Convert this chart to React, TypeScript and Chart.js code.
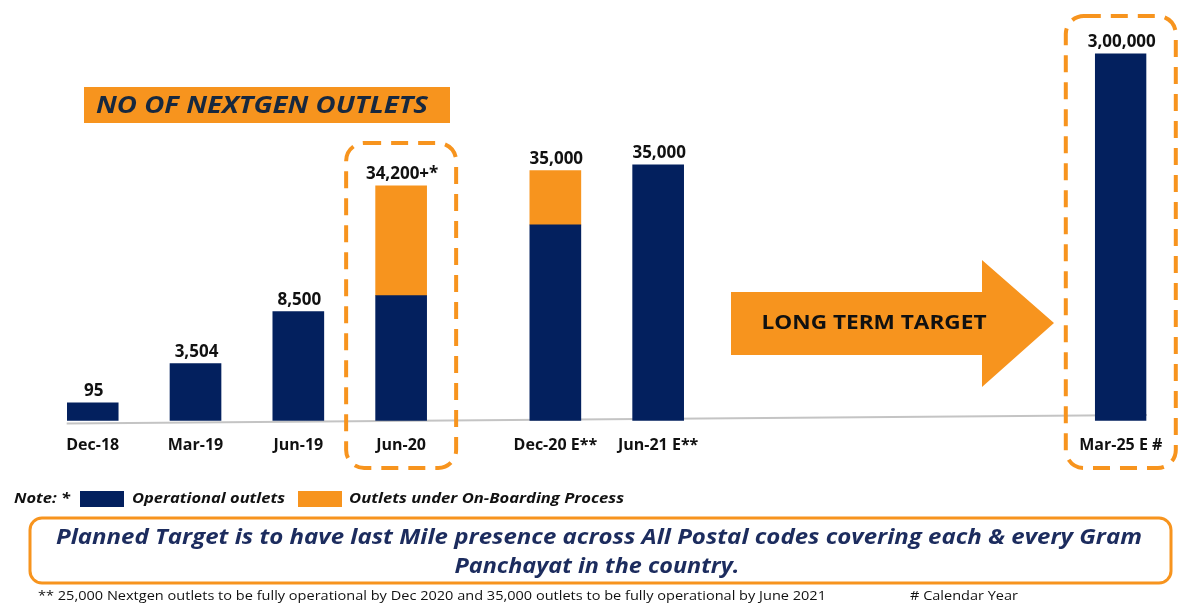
import { useEffect, useRef } from "react";
import { Chart, registerables } from "chart.js";

Chart.register(...registerables);

// Tick labels along the x axis (empty strings are spacer slots of the illustration)
const tickLabels = [
  "Dec-18", "", "Mar-19", "", "Jun-19", "", "Jun-20", "", "", "Dec-20 E**", "",
  "Jun-21 E**", "", "", "", "", "", "", "", "", "Mar-25 E #",
];
// Values printed above each bar
const valueLabels = ["95", "3,504", "8,500", "34,200+*", "35,000", "35,000", "3,00,000"];
// Bar heights as drawn (the original picture is not to scale), relative units 0-100
const operationalHeights = [4.5, 14.3, 27.3, 31.3, 49, 64, 91.8];
const onboardingHeights = [0, 0, 0, 27.5, 13.6, 0, 0];
// Categories wrapped by a dashed highlight box
const highlighted = ["Jun-20", "Mar-25 E #"];

const NAVY = "#03205E";
const ORANGE = "#F7941E";
const FONT = "'Open Sans', 'DejaVu Sans', sans-serif";

function fitText(
  ctx: CanvasRenderingContext2D,
  text: string,
  x: number,
  y: number,
  width: number,
  font: string,
  color: string,
  align: "left" | "center" = "left"
) {
  ctx.save();
  ctx.font = font;
  ctx.fillStyle = color;
  ctx.textBaseline = "middle";
  ctx.textAlign = "left";
  const w = ctx.measureText(text).width;
  const s = width / w;
  ctx.translate(align === "center" ? x - width / 2 : x, y);
  ctx.scale(s, 1);
  ctx.fillText(text, 0, 0);
  ctx.restore();
}

function roundRectPath(ctx: CanvasRenderingContext2D, x: number, y: number, w: number, h: number, r: number) {
  ctx.beginPath();
  ctx.moveTo(x + r, y);
  ctx.lineTo(x + w - r, y);
  ctx.arcTo(x + w, y, x + w, y + r, r);
  ctx.lineTo(x + w, y + h - r);
  ctx.arcTo(x + w, y + h, x + w - r, y + h, r);
  ctx.lineTo(x + r, y + h);
  ctx.arcTo(x, y + h, x, y + h - r, r);
  ctx.lineTo(x, y + r);
  ctx.arcTo(x, y, x + r, y, r);
  ctx.closePath();
}

export default function App() {
  const ref = useRef<HTMLCanvasElement>(null);

  useEffect(() => {
    document.body.style.margin = "0";
    const slots: number[] = [];
    tickLabels.forEach((l, i) => {
      if (l) slots.push(i);
    });
    const opData = tickLabels.map((l, i) => (l ? operationalHeights[slots.indexOf(i)] : null));
    const obData = tickLabels.map((l, i) => {
      if (!l) return null;
      const v = onboardingHeights[slots.indexOf(i)];
      return v > 0 ? v : null;
    });

    const decor = {
      id: "decor",
      beforeDatasetsDraw(chart: any) {
        const ctx = chart.ctx as CanvasRenderingContext2D;
        const xs = chart.scales.x;
        const left = xs.getPixelForValue(slots[0]) - 26;
        const right = xs.getPixelForValue(slots[slots.length - 1]) + 26;
        ctx.save();
        ctx.strokeStyle = "#C4C4C4";
        ctx.lineWidth = 2;
        ctx.beginPath();
        ctx.moveTo(left, 423.5);
        ctx.lineTo(right, 415);
        ctx.stroke();
        ctx.restore();
      },
      afterDraw(chart: any) {
        const ctx = chart.ctx as CanvasRenderingContext2D;
        const xs = chart.scales.x;
        const ys = chart.scales.y;

        // value labels
        ctx.save();
        ctx.font = `bold 17px ${FONT}`;
        ctx.fillStyle = "#111";
        ctx.textAlign = "center";
        ctx.textBaseline = "bottom";
        slots.forEach((s, i) => {
          const top = ys.getPixelForValue(operationalHeights[i] + onboardingHeights[i]);
          ctx.fillText(valueLabels[i], xs.getPixelForValue(s) + 1, top - 3);
        });
        ctx.restore();

        // dashed highlight boxes
        ctx.save();
        ctx.strokeStyle = ORANGE;
        ctx.lineWidth = 4;
        ctx.setLineDash([17, 10]);
        highlighted.forEach((lab) => {
          const cx = xs.getPixelForValue(tickLabels.indexOf(lab));
          const top = lab === "Jun-20" ? 143 : 16;
          roundRectPath(ctx, cx - 55, top, 110, 468 - top, 18);
          ctx.stroke();
        });
        ctx.restore();

        // title box
        ctx.save();
        ctx.fillStyle = ORANGE;
        ctx.fillRect(84, 87, 366, 36);
        ctx.restore();
        fitText(ctx, "NO OF NEXTGEN OUTLETS", 96, 106, 332, `italic bold 24px ${FONT}`, "#17283F");

        // arrow
        ctx.save();
        ctx.fillStyle = ORANGE;
        ctx.beginPath();
        ctx.moveTo(731, 292);
        ctx.lineTo(982, 292);
        ctx.lineTo(982, 260);
        ctx.lineTo(1054, 323);
        ctx.lineTo(982, 387);
        ctx.lineTo(982, 355);
        ctx.lineTo(731, 355);
        ctx.closePath();
        ctx.fill();
        ctx.restore();
        fitText(ctx, "LONG TERM TARGET", 874, 323, 225, `bold 20px ${FONT}`, "#111", "center");

        // legend note
        fitText(ctx, "Note: *", 14, 499, 56, `italic bold 15px ${FONT}`, "#111");
        ctx.save();
        ctx.fillStyle = NAVY;
        ctx.fillRect(80, 491, 44, 16);
        ctx.fillStyle = ORANGE;
        ctx.fillRect(298, 491, 44, 16);
        ctx.restore();
        fitText(ctx, "Operational outlets", 132, 499, 153, `italic bold 15px ${FONT}`, "#111");
        fitText(ctx, "Outlets under On-Boarding Process", 349, 499, 275, `italic bold 15px ${FONT}`, "#111");

        // planned target box
        ctx.save();
        ctx.strokeStyle = ORANGE;
        ctx.lineWidth = 3;
        roundRectPath(ctx, 30, 518, 1141, 65, 12);
        ctx.stroke();
        ctx.restore();
        fitText(
          ctx,
          "Planned Target is to have last Mile presence across All Postal codes covering each & every Gram",
          599,
          538,
          1086,
          `italic bold 21px ${FONT}`,
          "#1C2C5E",
          "center"
        );
        fitText(ctx, "Panchayat in the country.", 597, 567, 285, `italic bold 21px ${FONT}`, "#1C2C5E", "center");

        // footnotes
        fitText(
          ctx,
          "** 25,000 Nextgen outlets to be fully operational by Dec 2020 and 35,000 outlets to be fully operational by June 2021",
          38,
          596,
          788,
          `13px ${FONT}`,
          "#111"
        );
        fitText(ctx, "# Calendar Year", 910, 596, 108, `13px ${FONT}`, "#111");
      },
    };

    const chart = new Chart(ref.current as HTMLCanvasElement, {
      type: "bar",
      data: {
        labels: tickLabels,
        datasets: [
          {
            label: "Operational outlets",
            data: opData as any,
            backgroundColor: NAVY,
            borderWidth: 0,
            barThickness: 51,
          },
          {
            label: "Outlets under On-Boarding Process",
            data: obData as any,
            backgroundColor: ORANGE,
            borderWidth: 0,
            barThickness: 51,
          },
        ],
      },
      options: {
        responsive: false,
        animation: false,
        devicePixelRatio: 1,
        layout: { padding: { left: 67, right: 28, top: 21, bottom: 134 } },
        plugins: { legend: { display: false }, tooltip: { enabled: false } },
        scales: {
          x: {
            stacked: true,
            offset: true,
            grid: { display: false, drawTicks: false },
            border: { display: false },
            ticks: {
              autoSkip: false,
              maxRotation: 0,
              padding: 15,
              color: "#111",
              font: { family: FONT, weight: "bold", size: 16 },
            },
          },
          y: {
            display: false,
            stacked: true,
            min: 0,
            max: 100,
          },
        },
      },
      plugins: [decor],
    });
    return () => chart.destroy();
  }, []);

  return (
    <div style={{ width: 1178, height: 604, position: "relative", overflow: "hidden" }}>
      <canvas ref={ref} width={1178} height={604} style={{ display: "block" }} />
    </div>
  );
}
